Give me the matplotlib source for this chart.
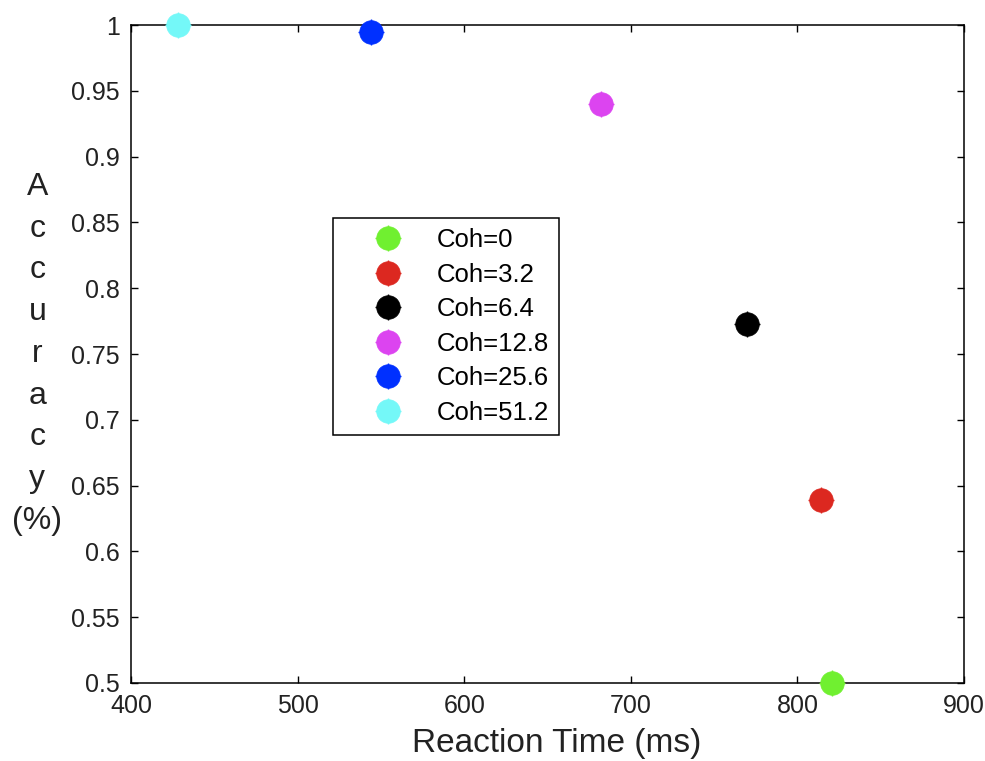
import matplotlib
matplotlib.use("Agg")
import matplotlib.pyplot as plt
from matplotlib.legend_handler import HandlerTuple

plt.rcParams['font.family'] = ['Liberation Sans', 'DejaVu Sans']

# Mean reaction time (ms) and accuracy for each coherence level
coherence_labels = ["Coh=0", "Coh=3.2", "Coh=6.4", "Coh=12.8", "Coh=25.6", "Coh=51.2"]
reaction_time = [821, 814, 770, 682, 544, 428]
accuracy = [0.5, 0.639, 0.773, 0.94, 0.995, 1.0]
colors = ["#70F030", "#DC2820", "#000000", "#DC44F0", "#0030FF", "#74F8F8"]

x_ticks = [400, 500, 600, 700, 800, 900]
y_ticks = [0.5, 0.55, 0.6, 0.65, 0.7, 0.75, 0.8, 0.85, 0.9, 0.95, 1.0]
y_tick_labels = ["0.5", "0.55", "0.6", "0.65", "0.7", "0.75", "0.8", "0.85", "0.9", "0.95", "1"]

fig = plt.figure(figsize=(9.85, 7.61), dpi=100)
ax = fig.add_axes([0.133, 0.1025, 0.8457, 0.8645])

handles = []
for rt, acc, col, lab in zip(reaction_time, accuracy, colors, coherence_labels):
    h1, = ax.plot([rt], [acc], 'o', ms=17, color=col, mec=col, mew=0.5,
                  clip_on=False, zorder=3)
    h2, = ax.plot([rt], [acc], '+', ms=19, color=col, mew=1.0,
                  clip_on=False, zorder=3)
    handles.append(((h1, h2), lab))

ax.set_xlim(400, 900)
ax.set_ylim(0.5, 1.0)
ax.set_xticks(x_ticks)
ax.set_xticklabels([str(t) for t in x_ticks])
ax.set_yticks(y_ticks)
ax.set_yticklabels(y_tick_labels)

ax.tick_params(direction='in', length=5, width=1.0, top=True, right=True,
               labelsize=18, pad=8, colors='black')
ax.tick_params(axis='both', labelcolor='#222222')
for sp in ax.spines.values():
    sp.set_linewidth(1.1)

ax.set_xlabel("Reaction Time (ms)", fontsize=24, color='#222222')
ax.xaxis.set_label_coords(0.511, -0.068, transform=ax.transAxes)
ax.xaxis.label.set_va('top')
fig.text(0.038, 0.535, "\n".join(list("Accuracy") + ["(%)"]), ha='center',
         va='center', fontsize=23, linespacing=1.51, color='#222222')

leg = ax.legend([h for h, _ in handles], [l for _, l in handles],
                handler_map={tuple: HandlerTuple(ndivide=1)},
                loc='upper left', bbox_to_anchor=(0.2425, 0.7067),
                borderaxespad=0, fontsize=18.5, frameon=True, fancybox=False,
                edgecolor='black', framealpha=1, handlelength=3.5,
                handletextpad=0.14, labelspacing=0.41, borderpad=0.4,
                numpoints=1)
leg.get_frame().set_linewidth(1.1)

fig.savefig("out.png", dpi=100)
